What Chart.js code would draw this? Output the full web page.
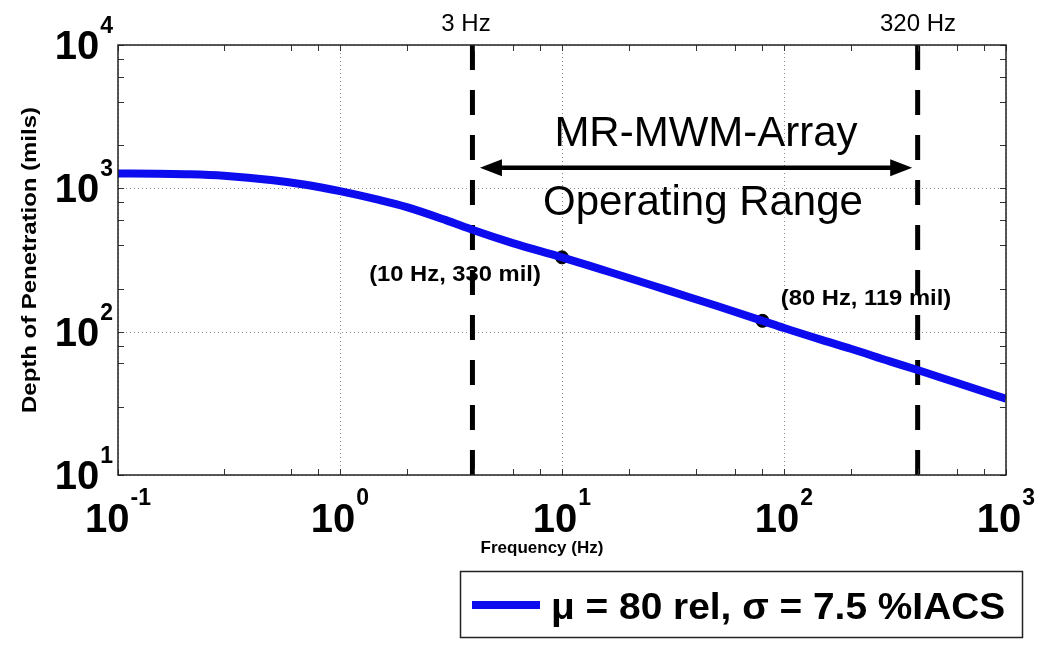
<!DOCTYPE html>
<html><head><meta charset="utf-8">
<script src="https://cdn.jsdelivr.net/npm/chart.js@4.4.0/dist/chart.umd.min.js"></script>
<style>html,body{margin:0;padding:0;background:#fff;overflow:hidden;} #wrap{width:1057px;height:648px;position:relative;}</style>
</head><body><div id="wrap"><canvas id="c" width="1057" height="648"></canvas></div>
<script>
// ---- data ----
const frequencies = [0.1, 0.15, 0.2, 0.3, 0.5, 0.7, 1, 1.5, 2, 3, 4, 6, 10, 15, 20, 30, 50, 80, 100, 150, 200, 300, 400, 600, 1000];
const depths      = [1270, 1265, 1255, 1225, 1140, 1060, 955, 830, 740, 600, 510, 415, 330, 272, 237, 194, 151, 119, 106, 87, 76, 62, 54, 44, 34];
const markedFreqs  = [10, 80];
const markedDepths = [330, 119];
const markedLabels = ['(10 Hz, 330 mil)', '(80 Hz, 119 mil)'];
const rangeLineFreqs  = [3.95, 400];
const rangeLineLabels = ['3 Hz', '320 Hz'];
const arrowFreqs = [4.27, 378];
const arrowDepth = 1390;
const rangeTitle = ['MR-MWM-Array', 'Operating Range'];
const xTickExponents = [-1, 0, 1, 2, 3];
const yTickExponents = [1, 2, 3, 4];
const xTitle = 'Frequency (Hz)';
const yTitle = 'Depth of Penetration (mils)';
const seriesLabel = 'μ = 80 rel, σ = 7.5 %IACS';

const BLUE = '#0c0cee';
const FONT = '"Liberation Sans", Arial, sans-serif';

function stretchedText(ctx, txt, x, y, font, align, sx) {
  ctx.save();
  ctx.font = font;
  ctx.textBaseline = 'alphabetic';
  const w = ctx.measureText(txt).width * sx;
  let left = x;
  if (align === 'center') left = x - w / 2;
  else if (align === 'right') left = x - w;
  ctx.translate(left, y);
  ctx.scale(sx, 1);
  ctx.textAlign = 'left';
  ctx.fillText(txt, 0, 0);
  ctx.restore();
}

function powLabel(ctx, exp, x, yBase, ySup, align) {
  const baseFont = 'bold 40px ' + FONT;
  const supFont = 'bold 23px ' + FONT;
  const supTxt = exp < 0 ? '-' + Math.abs(exp) : String(exp);
  ctx.font = baseFont; const wb = ctx.measureText('10').width;
  ctx.font = supFont; const ws = ctx.measureText(supTxt).width;
  const total = wb + 1 + ws;
  let left = align === 'center' ? x - total / 2 : x - total;
  ctx.fillStyle = '#000';
  ctx.textAlign = 'left';
  ctx.textBaseline = 'alphabetic';
  ctx.font = baseFont; ctx.fillText('10', left, yBase);
  ctx.font = supFont; ctx.fillText(supTxt, left + wb + 1, ySup);
}

const framePlugin = {
  id: 'frame',
  beforeDatasetsDraw(chart) {
    const {ctx, chartArea: a, scales: {x, y}} = chart;
    ctx.save();
    ctx.strokeStyle = '#8a8a8a';
    ctx.lineWidth = 1;
    ctx.setLineDash([1, 3]);
    x.ticks.forEach(t => {
      const e = Math.log10(t.value);
      if (Math.abs(e - Math.round(e)) < 1e-9) {
        const px = Math.round(x.getPixelForValue(t.value)) + 0.5;
        ctx.beginPath(); ctx.moveTo(px, a.top); ctx.lineTo(px, a.bottom); ctx.stroke();
      }
    });
    y.ticks.forEach(t => {
      const e = Math.log10(t.value);
      if (Math.abs(e - Math.round(e)) < 1e-9) {
        const py = Math.round(y.getPixelForValue(t.value)) + 0.5;
        ctx.beginPath(); ctx.moveTo(a.left, py); ctx.lineTo(a.right, py); ctx.stroke();
      }
    });
    ctx.restore();
  },
  afterDatasetsDraw(chart) {
    const {ctx, chartArea: a, scales: {x, y}} = chart;
    ctx.save();
    // inward ticks
    ctx.strokeStyle = '#333';
    ctx.lineWidth = 1;
    const L = 6;
    x.ticks.forEach(t => {
      const px = Math.round(x.getPixelForValue(t.value)) + 0.5;
      ctx.beginPath();
      ctx.moveTo(px, a.bottom); ctx.lineTo(px, a.bottom - L);
      ctx.moveTo(px, a.top); ctx.lineTo(px, a.top + L);
      ctx.stroke();
    });
    y.ticks.forEach(t => {
      const py = Math.round(y.getPixelForValue(t.value)) + 0.5;
      ctx.beginPath();
      ctx.moveTo(a.left, py); ctx.lineTo(a.left + L, py);
      ctx.moveTo(a.right, py); ctx.lineTo(a.right - L, py);
      ctx.stroke();
    });
    // box
    ctx.strokeStyle = '#222';
    ctx.lineWidth = 1.5;
    ctx.strokeRect(a.left, a.top, a.right - a.left, a.bottom - a.top);

    // tick labels
    xTickExponents.forEach(e => {
      powLabel(ctx, e, x.getPixelForValue(Math.pow(10, e)), a.bottom + 57, a.bottom + 30, 'center');
    });
    yTickExponents.forEach(e => {
      const py = y.getPixelForValue(Math.pow(10, e));
      powLabel(ctx, e, a.left - 5, py + 14, py - 12, 'right');
    });

    // axis titles
    ctx.fillStyle = '#000';
    stretchedText(ctx, xTitle, 542, 553, 'bold 17px ' + FONT, 'center', 1);
    ctx.save();
    ctx.translate(36, 260);
    ctx.rotate(-Math.PI / 2);
    stretchedText(ctx, yTitle, 0, 0, 'bold 21px ' + FONT, 'center', 1.14);
    ctx.restore();

    // range labels
    const rangeLabelX = [466, 918];
    rangeLineLabels.forEach((t, i) => {
      stretchedText(ctx, t, rangeLabelX[i], 31, '24px ' + FONT, 'center', 1.0);
    });

    // arrow
    const ay = y.getPixelForValue(arrowDepth);
    const ax0 = x.getPixelForValue(arrowFreqs[0]);
    const ax1 = x.getPixelForValue(arrowFreqs[1]);
    const hl = 22, hh = 8.5;
    ctx.strokeStyle = '#000'; ctx.fillStyle = '#000';
    ctx.lineWidth = 4.5;
    ctx.beginPath(); ctx.moveTo(ax0 + hl - 2, ay); ctx.lineTo(ax1 - hl + 2, ay); ctx.stroke();
    ctx.beginPath(); ctx.moveTo(ax0, ay); ctx.lineTo(ax0 + hl, ay - hh); ctx.lineTo(ax0 + hl, ay + hh); ctx.closePath(); ctx.fill();
    ctx.beginPath(); ctx.moveTo(ax1, ay); ctx.lineTo(ax1 - hl, ay - hh); ctx.lineTo(ax1 - hl, ay + hh); ctx.closePath(); ctx.fill();

    stretchedText(ctx, rangeTitle[0], 706, 146, '42px ' + FONT, 'center', 1);
    stretchedText(ctx, rangeTitle[1], 703, 215, '42px ' + FONT, 'center', 1);

    // point labels
    stretchedText(ctx, markedLabels[0], 455, 281, 'bold 22px ' + FONT, 'center', 1.08);
    stretchedText(ctx, markedLabels[1], 866, 305, 'bold 22px ' + FONT, 'center', 1.08);

    // legend
    ctx.lineWidth = 1.5;
    ctx.strokeStyle = '#222';
    ctx.strokeRect(460.5, 571.5, 562, 66);
    ctx.strokeStyle = BLUE;
    ctx.lineWidth = 8;
    ctx.beginPath(); ctx.moveTo(472, 605); ctx.lineTo(540, 605); ctx.stroke();
    ctx.fillStyle = '#000';
    stretchedText(ctx, seriesLabel, 551, 619, 'bold 37px ' + FONT, 'left', 1.05);
    ctx.restore();
  }
};

const curve = frequencies.map((f, i) => ({x: f, y: depths[i]}));
const marks = markedFreqs.map((f, i) => ({x: f, y: markedDepths[i]}));
const vlines = rangeLineFreqs.map(f => ({
  data: [{x: f, y: 10}, {x: f, y: 10000}],
  borderColor: '#000', borderWidth: 5, borderDash: [25, 20],
  pointRadius: 0, fill: false, borderCapStyle: 'butt'
}));

new Chart(document.getElementById('c'), {
  type: 'line',
  data: {
    datasets: [
      {label: seriesLabel, data: curve, borderColor: BLUE, borderWidth: 8, pointRadius: 0, fill: false, tension: 0.3, cubicInterpolationMode: 'monotone'},
      ...vlines,
      {label: 'marks', data: marks, showLine: false, pointRadius: 6.5, pointBackgroundColor: '#000', pointBorderColor: '#000', pointBorderWidth: 1}
    ]
  },
  options: {
    responsive: false,
    animation: false,
    events: [],
    layout: {padding: {left: 118, top: 45, right: 51, bottom: 173}},
    plugins: {legend: {display: false}, tooltip: {enabled: false}},
    scales: {
      x: {type: 'logarithmic', display: false, min: 0.1, max: 1000},
      y: {type: 'logarithmic', display: false, min: 10, max: 10000}
    }
  },
  plugins: [framePlugin]
});
</script>
</body></html>
